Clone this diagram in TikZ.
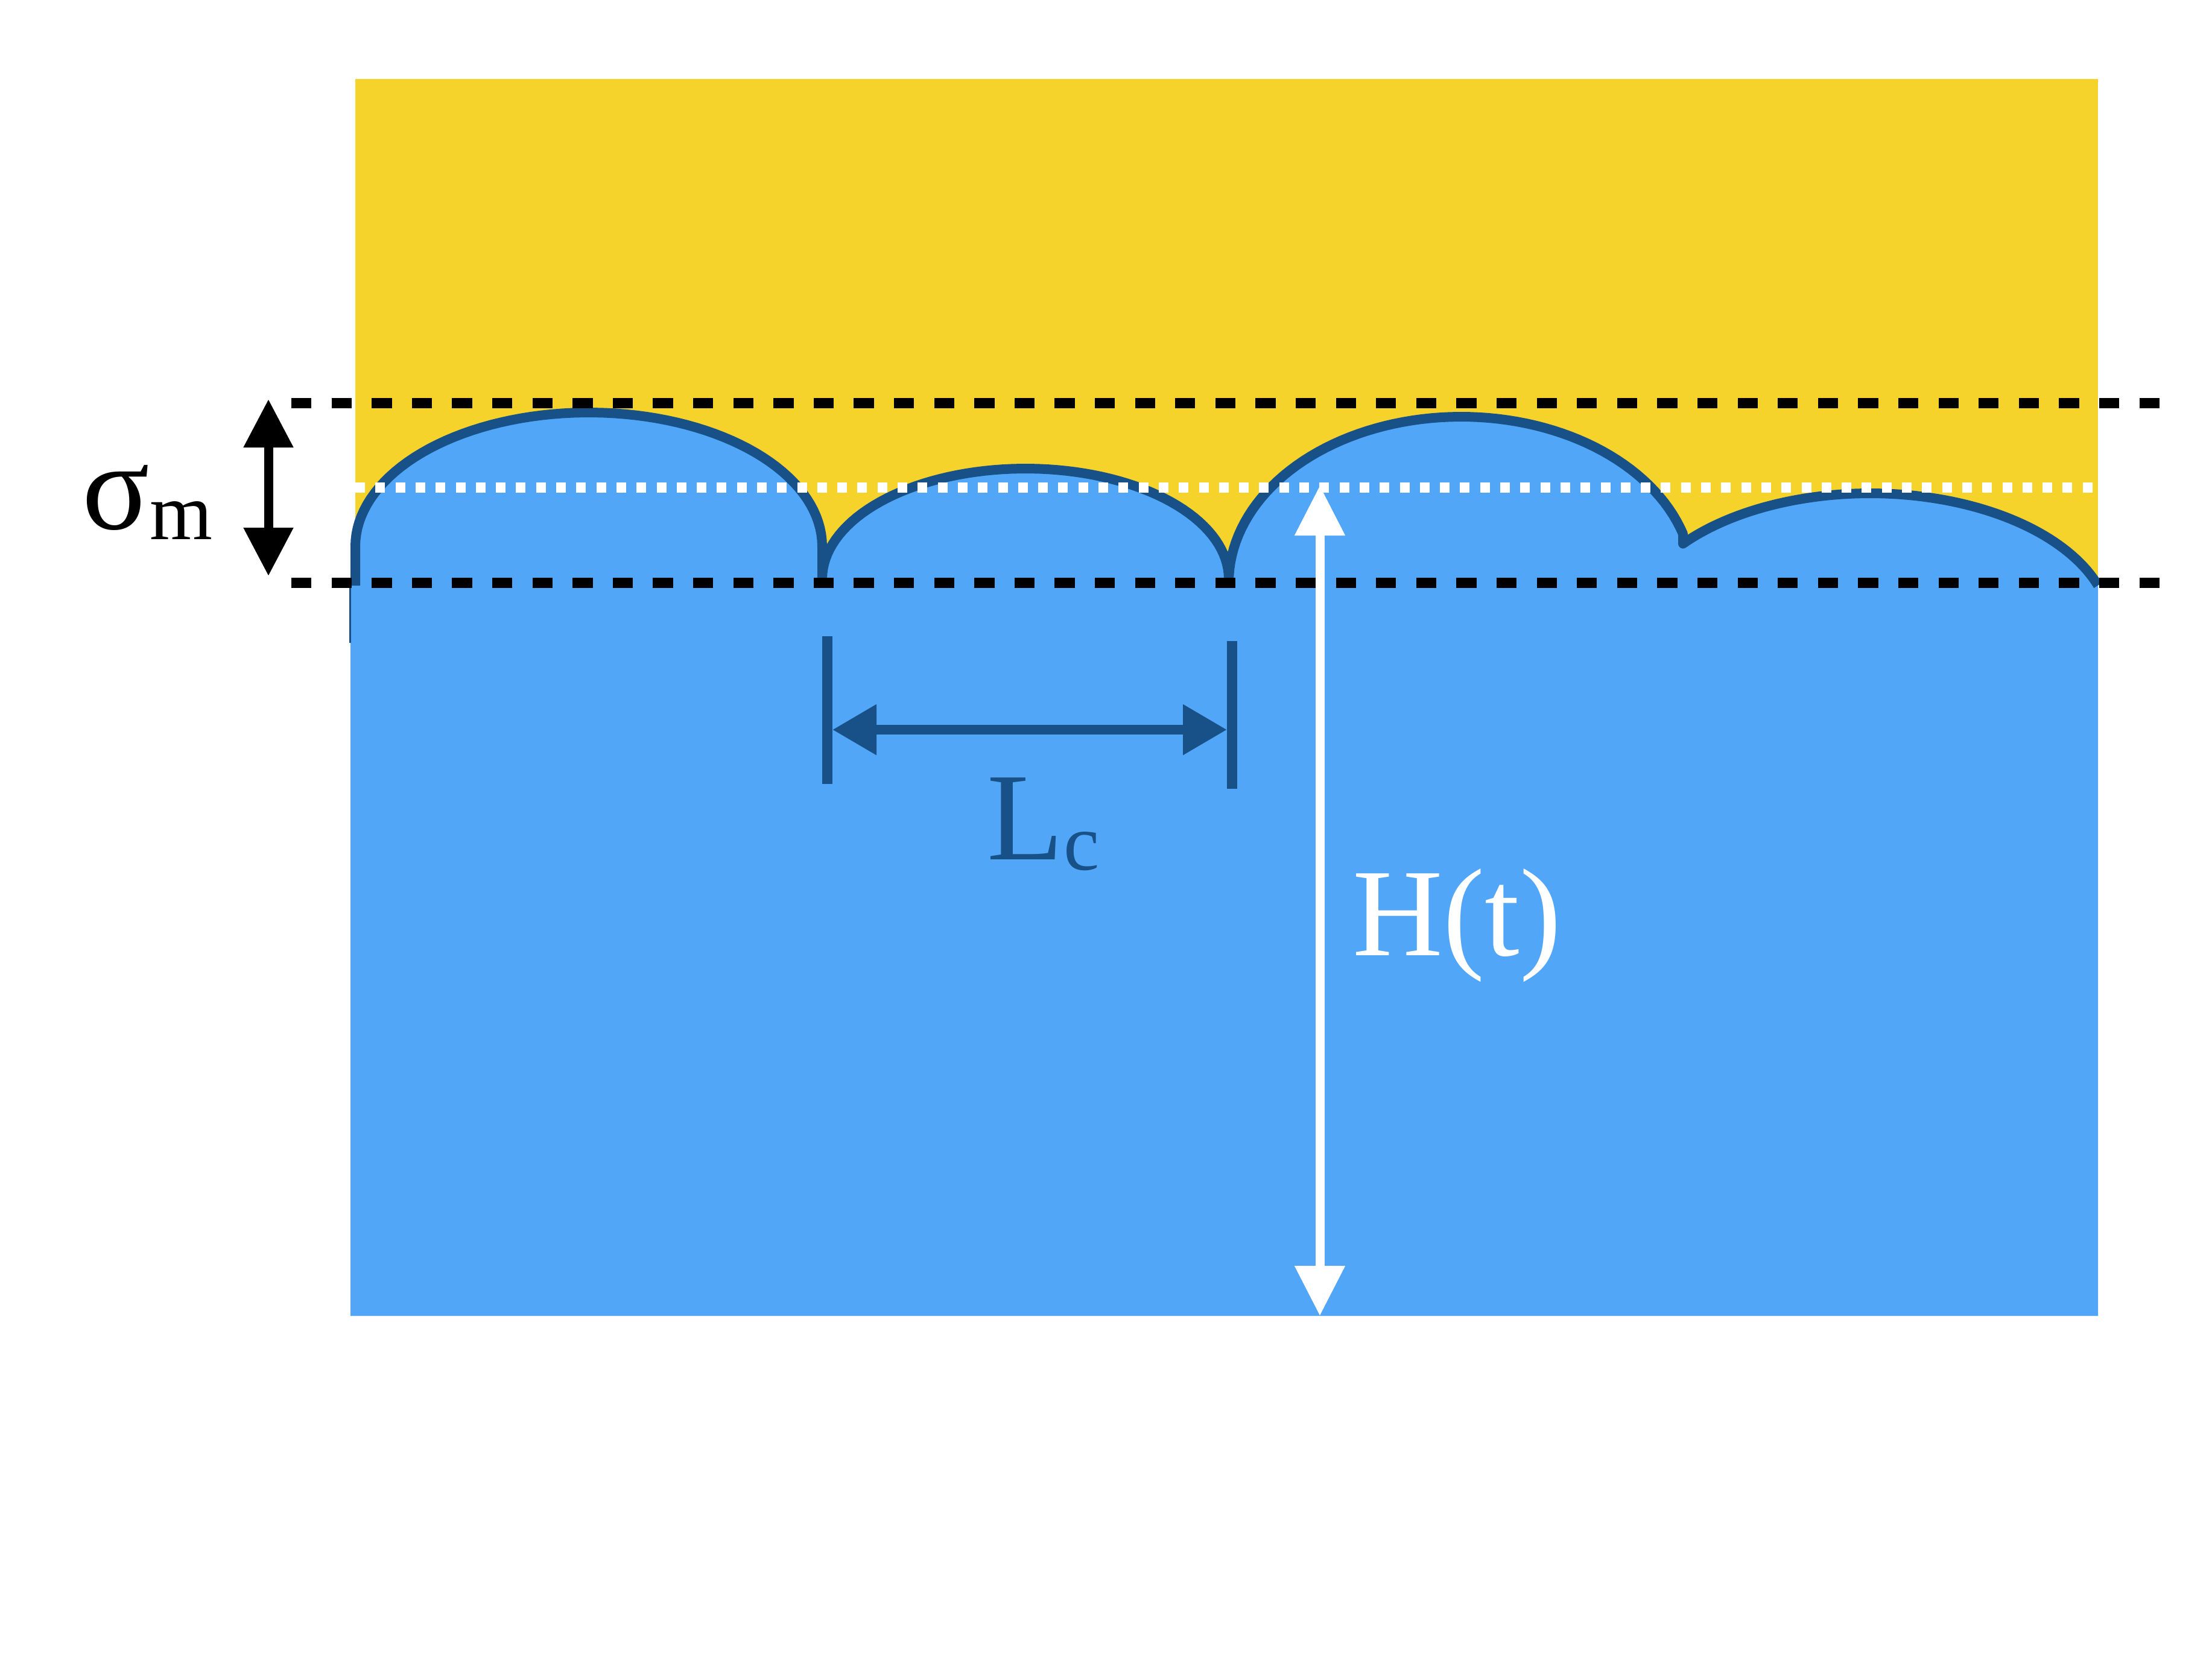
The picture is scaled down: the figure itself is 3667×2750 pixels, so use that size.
\documentclass[tikz,border=0pt]{standalone}
\usepackage{fontspec}
\setmainfont{Liberation Serif}
\usetikzlibrary{arrows.meta}
\definecolor{goldfill}{RGB}{245,211,42}
\definecolor{bluefill}{RGB}{82,166,248}
\definecolor{blueline}{RGB}{24,80,136}
\tikzset{
  bigfont/.style={font=\fontsize{59}{62}\selectfont, inner sep=0pt, anchor=base west},
  refline/.style={black, line width=1.7mm, dash pattern=on 3.33mm off 3.33mm},
  midline/.style={white, line width=1.7mm, dash pattern=on 1.6mm off 1.73mm},
  sigarrow/.style={black, line width=1.5mm, {Triangle[length=8mm,width=7.9mm]}-{Triangle[length=8mm,width=7.9mm]}},
  lcarrow/.style={blueline, line width=1.6mm, {Triangle[length=7.3mm,width=8mm]}-{Triangle[length=7.3mm,width=8mm]}},
  harrow/.style={white, line width=1.5mm, {Triangle[length=8.3mm,width=8mm]}-{Triangle[length=8.3mm,width=8mm]}},
  lcbar/.style={blueline, line width=1.7mm},
}
\newcommand{\bumpsurface}{%
  (589,971) -- (589,906)
  -- plot[domain=180:0, samples=70] ({976+387*cos(\x)},{906-222*sin(\x)})
  -- (1363,960)
  -- plot[domain=180:0, samples=70] ({1700+337*cos(\x)},{960-183*sin(\x)})
  -- (2037,966)
  -- plot[domain=180:17.1, samples=70] ({2422+385*cos(\x)},{966-275*sin(\x)})
  -- (2790,901.5)
  -- plot[domain=140.8:19.1, samples=70] ({3100+400*cos(\x)},{1045-227*sin(\x)})
}
\begin{document}
\begin{tikzpicture}[x=0.1mm, y=-0.1mm]
\useasboundingbox (0,0) rectangle (3667,2750);
\fill[white] (0,0) rectangle (3667,2750);
% solid phase
\fill[goldfill] (589,131) rectangle (3478,971);
% liquid with bumpy interface
\fill[bluefill] \bumpsurface -- (3478,2182) -- (581,2182) -- (581,971) -- cycle;
\draw[blueline, line width=1.6mm, line join=round] \bumpsurface;
\draw[blueline, line width=0.3mm] (580,971) -- (580,1066);
% reference lines
\coordinate (upL) at (483,668);
\coordinate (upR) at (3584,668);
\coordinate (loL) at (483,966);
\coordinate (loR) at (3584,966);
\coordinate (midL) at (589,808);
\coordinate (midR) at (3478,808);
\draw[refline] (upL) -- (upR);
\draw[refline] (loL) -- (loR);
\draw[midline] (midL) -- (midR);
% sigma_m arrow
\coordinate (sigTop) at (445,662);
\coordinate (sigBot) at (445,955);
\draw[sigarrow] (sigTop) -- (sigBot);
\node[bigfont] (sig) at (136,877) {σ\raisebox{-1.7mm}{\fontsize{38}{40}\selectfont m}};
% L_c dimension
\coordinate (barAt) at (1371,1055);
\coordinate (barAb) at (1371,1300);
\coordinate (barBt) at (2042,1063);
\coordinate (barBb) at (2042,1308);
\draw[lcbar] (barAt) -- (barAb);
\draw[lcbar] (barBt) -- (barBb);
\coordinate (lcL) at (1380,1210);
\coordinate (lcR) at (2034,1210);
\draw[lcarrow] (lcL) -- (lcR);
\node[bigfont, text=blueline] (lc) at (1636,1425) {L\raisebox{-1.7mm}{\fontsize{38}{40}\selectfont c}};
% H(t) arrow
\coordinate (hTop) at (2188,805);
\coordinate (hBot) at (2188,2182);
\draw[harrow] (hTop) -- (hBot);
\node[bigfont, text=white] (ht) at (2242,1584) {H(t)};
\end{tikzpicture}
\end{document}
